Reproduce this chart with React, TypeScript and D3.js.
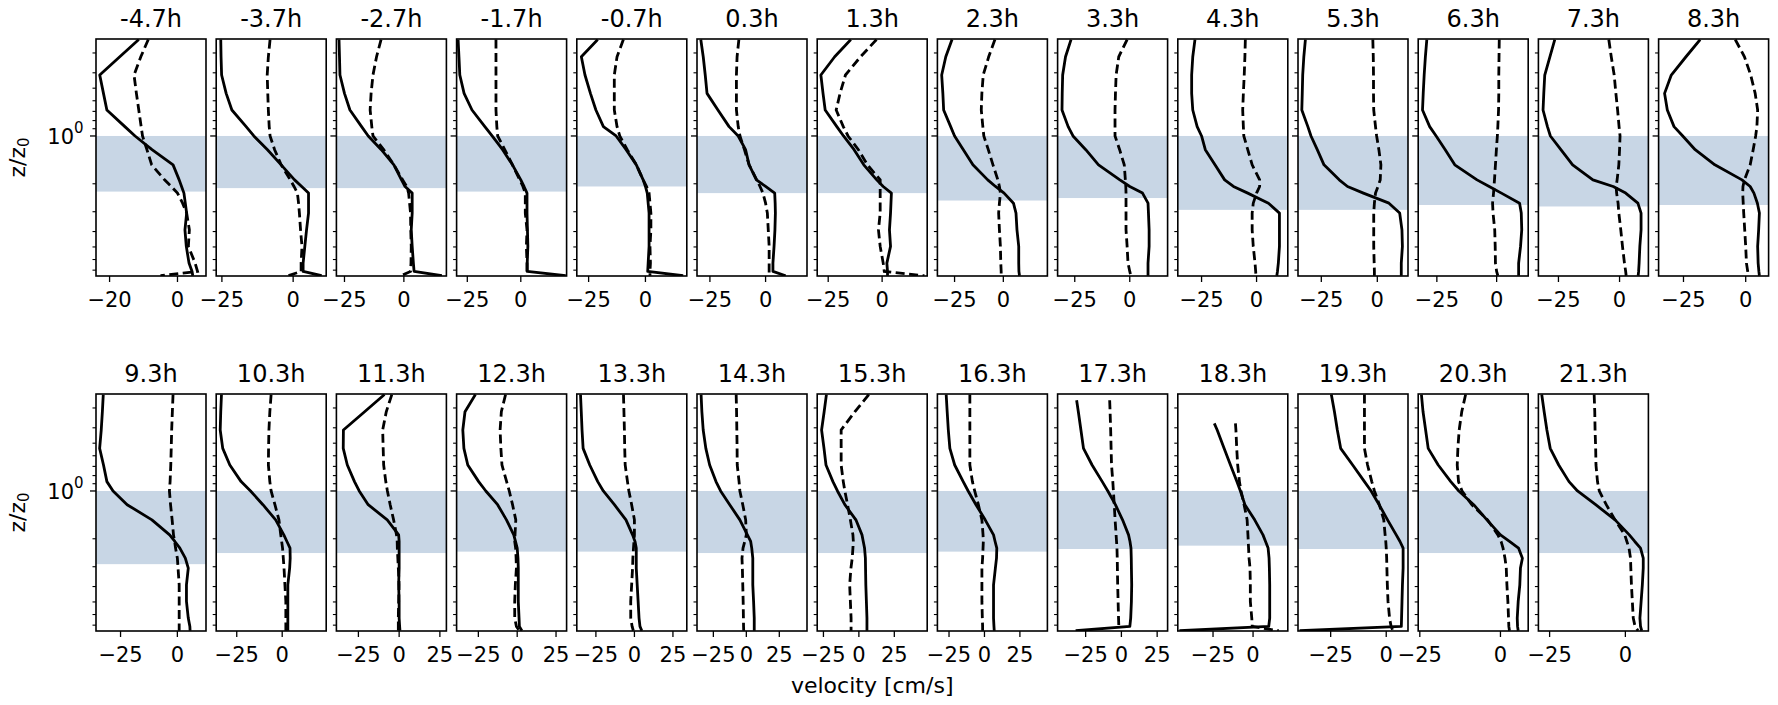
import React from "react";
import * as d3 from "d3";

const N = null;

// z/z0 levels (shared by all profiles, top to bottom)
const Z_LEVELS = [0.247, 0.268, 0.317, 0.375, 0.413, 0.539, 0.686, 0.873, 1.0, 1.22, 1.52, 1.89, 2.08, 2.29, 2.65, 3.06, 3.9, 4.96, 6.32, 7.13, 7.59];

const TITLES = ["-4.7h", "-3.7h", "-2.7h", "-1.7h", "-0.7h", "0.3h", "1.3h", "2.3h", "3.3h", "4.3h", "5.3h", "6.3h", "7.3h", "8.3h",
  "9.3h", "10.3h", "11.3h", "12.3h", "13.3h", "14.3h", "15.3h", "16.3h", "17.3h", "18.3h", "19.3h", "20.3h", "21.3h"];

// solid profile (cm/s)
const SOLID = [
  [-11.4, N, -17, N, -22.9, -21.8, -20.8, -15.5, -12.5, -7.5, -1.3, 0.5, 1.2, 1.9, 2.3, 2.7, 2.2, 2.6, 3.4, 4.3, 4.5],
  [-25.4, N, -25.3, N, -25.1, -23.5, -21.5, -16.5, -13.8, -9, -4.2, 0.5, 3, 5.4, 5.4, 5.4, 4.7, 4.1, 3.5, 3.5, 10],
  [-27.3, N, -27.1, N, -26.9, -25, -22.7, -17.8, -15, -9.5, -4.2, -1, 0.5, 3.5, 3.5, 3.5, 3.1, 3.5, 4, 4.3, 16],
  [-29.3, N, -28.9, N, -28.5, -26.5, -22.8, -16.8, -13.4, -8.5, -3.9, 0, 1.5, 2.9, 2.9, 2.9, 3.1, 3.3, 3, 3, 21],
  [-21, N, -28.2, N, -26.6, -24.2, -21.8, -18.5, -12.9, -8.5, -4, -1, 0, 0.8, 1.2, 1.6, 1.6, 1.6, 1.2, 1, 16.6],
  [-29.1, N, -28, N, -27.1, -26.3, -21.4, -16.4, -12.3, -9, -7.4, -4.1, 0, 4.1, 4.3, 4.4, 4.2, 3.8, 3.3, 3.3, 9],
  [-14.5, N, -22, N, -28.4, -27.4, -26.4, -21, -17.9, -13, -8.5, -2.5, 0.5, 4.3, 4.1, 3.9, 3.4, 3.9, 2.2, 2.5, 2.5],
  [-26.3, N, -29.5, N, -31.6, -31, -30.6, -27, -25, -20.5, -15.6, -8, -4, 0.4, 5.2, 6.5, 7, 7.9, 7.9, 8, 8.3],
  [-26.7, N, -29.2, N, -30.5, -30.7, -30.8, -28, -25.8, -20, -14.2, -4.5, 0, 5.8, 8.3, 8.5, 8.8, 8.8, 8.3, 8.3, 8.3],
  [-28, N, -29, N, -29.5, -29.5, -29, -27, -25, -23.3, -18.9, -14.5, -10.5, -4, 5.4, 10.4, 10.4, 10.4, 9.9, 9.5, 9.2],
  [-32.1, N, -32.8, N, -33.3, -33.5, -33.7, -31, -29.6, -26.8, -23.8, -17, -13.3, -6.2, 5.2, 10, 11, 11.2, 10.7, 10.7, 10.7],
  [-29.2, N, -29.8, N, -30.3, -30.7, -31, -28, -25.3, -21.5, -17.5, -8.2, -3.1, 2, 9.6, 10.3, 10.5, 10, 9.2, 9.2, 9.2],
  [-26.5, N, -28.5, N, -30.6, -31, -31.3, -29.5, -28.3, -24, -19.2, -10.9, -2.6, 2.5, 7.5, 8.8, 8.8, 8.3, 8, 7.8, 7.6],
  [-18.3, N, -24, N, -29.9, -32.6, -31.5, -28.8, -25.3, -20.3, -12.4, -1.5, 1.8, 3.3, 4.7, 5.5, 5.2, 4.8, 5, 5.3, 5.5],
  [-32.6, N, -33, N, -33.5, -34.2, -32.5, -31, -28.3, -22.1, -11.2, -3.4, -1.1, 1.1, 3.5, 4.8, 4, 4, 4.8, 5.5, 5.6],
  [-33.4, N, -33.8, N, -34.1, -32.7, -28.8, -22.6, -17.4, -10.6, -3.6, 0.9, 2.6, 4.3, 4.4, 4.1, 3.1, 3.1, 3.1, 3.1, 3.1],
  [-9, N, -21.2, N, -34.2, -34.3, -31.8, -27.4, -24.5, -19, -7.3, -0.3, 0, 0, 0, 0, -0.3, 0, 0, 0.3, 0.5],
  [-26.9, N, -33.6, N, -35, -34.3, -31.8, -24.8, -20.2, -12.6, -6.9, -2.2, -1.1, 0, 0.5, 0.7, 0.7, 0.7, 1.2, 1.4, 3],
  [-35, N, -34.5, N, -34, -33.3, -29, -23.8, -20.2, -13, -5.5, -1.2, 0.4, 1.2, 1.2, 1.2, 1.8, 2.4, 3, 3.6, 4.8],
  [-34.3, N, -33.7, N, -32.7, -30.7, -27.8, -23, -19.5, -12.6, -4.9, 0.8, 3.3, 4.1, 4.9, 4.9, 4.9, 5.5, 6, 6, 6],
  [-22.9, N, -24.5, N, -26.3, -24.6, -23.2, -18.3, -15.1, -9.9, -2.1, 2.2, 3.1, 4, 4.6, 4.7, 4.9, 5.3, 5.7, 5.7, 5.7],
  [-27, N, -26.3, N, -25.5, -24.4, -21, -15, -11.5, -6, 0.5, 6.4, 7.5, 8.7, 8.5, 7.7, 6.4, 6.4, 6.4, 6.7, 6.9],
  [N, -31.3, -30.1, N, -28.3, -26.5, -20.5, -13.4, -9.5, -4.2, 0.8, 5, 6, 6.7, 6.9, 7, 7.2, 7, 6.5, 5.9, -32],
  [N, N, N, -24.2, -22.4, -18.1, -14.1, -10.1, -7.9, -5.1, 1, 6.2, 7.8, 9.4, 10, 10.2, 10.4, 10.4, 10.4, 9.8, -46],
  [-24.7, N, -23.3, N, -22, -20.5, -15.1, -9.8, -6.8, -3.2, 0.6, 4.5, 6.2, 7.6, 7.6, 7.6, 7.3, 7.1, 6.9, 6.8, -39],
  [-24.5, N, -24, N, -23.2, -22.4, -19.3, -15.4, -12.9, -8.3, -4.2, 0, 2.8, 5.6, 6.8, 6.2, 6, 5.5, 5.2, 5.3, 5.5],
  [-27.6, N, -26.8, N, -25.9, -24.8, -22, -18.6, -15.8, -9.8, -3.4, 1.3, 3.1, 5, 5.9, 5.9, 5.6, 5.2, 4.8, 5, 5.4],
];

// dashed profile (cm/s)
const DASHED = [
  [-8.6, N, -10.8, N, -12.8, -12.1, -11.4, -10.7, -10.3, -9, -7.6, -3.8, -1.8, 0, 1.5, 2.7, 3.5, 3.2, 5.2, 5.9, -5],
  [-8.1, N, -8.7, N, -9.1, -8.9, -8.7, -8.4, -8.1, -6.5, -4.2, -1, 0.3, 1.5, 1.9, 2.2, 2.6, 3.1, 2.8, 2.8, -1.7],
  [-9.6, N, -11.5, N, -13, -13.8, -14.2, -13.5, -13, -8.5, -4.2, -0.5, 1.2, 2, 2.4, 2.8, 2.9, 3.1, 3, 2.8, -1.1],
  [-11.6, N, -11.6, N, -11.6, -11.6, -11.6, -11.2, -10.8, -7.5, -3.9, -0.5, 1, 2.1, 2.1, 2.1, 2.9, 2.6, 2.9, 2.9, 3],
  [-9.7, N, -12.5, N, -13.7, -13.7, -13.7, -12.5, -11.3, -8, -4, -1, 0.5, 1.6, 2, 2.4, 2.4, 2, 2.2, 2, 2],
  [-12, N, -12.8, N, -13.1, -13.1, -13.1, -12.3, -11.5, -9.5, -7.4, -4, -2.5, -1.2, 0, 0.8, 1.2, 1.6, 1.6, 1.6, 1.6],
  [-2.6, N, -10, N, -17, -19.5, -21.3, -18, -15.8, -11, -6.8, -0.9, -0.9, -0.9, -0.9, -0.9, -1.7, -0.9, 0.5, 1, 19.6],
  [-4.3, N, -7.5, N, -10.3, -11, -11.3, -10.5, -10, -7.7, -5.3, -2.8, -2, -1.5, -2, -2.4, -2, -1.5, -1.3, -1.1, -1.1],
  [-1.2, N, -5, N, -6.2, -6.5, -6.7, -6.7, -6.7, -4.6, -2.5, -2, -1.8, -1.7, -1.7, -1.7, -1.7, -1.2, -0.8, 0, 0.5],
  [-5.1, N, -5.3, N, -5.6, -6, -6.3, -6, -5.8, -4, -2, 1.4, 1.4, 0, -1.5, -2, -2, -1.5, -0.7, -0.4, -0.3],
  [-2, N, -1.8, N, -1.7, -1.7, -1.6, -0.8, -0.3, 0.7, 1.6, 1.3, 0.3, -0.8, -1.3, -1.6, -1.6, -1.6, -1.4, -1.3, -1.3],
  [1.1, N, 1, N, 0.9, 0.9, 0.8, 0.5, 0.3, -0.1, -0.5, -0.9, -1.1, -1.3, -1.7, -1.5, -0.8, -0.6, -0.5, 0, 0.5],
  [-4.4, N, -3.4, N, -2.2, -1.5, -0.8, -0.2, 0.2, 0, -0.3, -1, -1.4, -1.2, -0.6, -0.3, 0.5, 1.2, 2, 2.5, 2.7],
  [-4.2, N, -0.5, N, 2, 3.8, 4.8, 4.5, 4, 3, 1.8, -0.5, -1.1, -1.2, -1, -0.8, -0.4, 0, 0.3, 0.8, 1],
  [-1.9, N, -2.2, N, -2.5, -2.7, -2.9, -3.2, -3.5, -3, -2.3, -1.7, -1.2, -0.8, 0, 0.3, 0.8, 0.8, 0.8, 0.8, 0.8],
  [-6.1, N, -6.8, N, -7.3, -7.5, -7.6, -6.8, -6.1, -4, -1.8, -0.8, -0.3, 0.2, 0.6, 1, 1.5, 2, 2, 2, 2],
  [-4.5, N, -7.9, N, -10.1, -9.8, -9.5, -8.2, -7.2, -5.5, -3.4, -1.6, -1.2, -1.1, -0.8, -0.5, 0, -0.3, -0.5, -0.5, -0.5],
  [-7.5, N, -10.2, N, -11, -10.5, -9.8, -6.8, -5.1, -3, -0.9, -1.4, -1.6, -1, -0.7, -0.5, -1.2, -1.6, -1.6, -0.5, 1.4],
  [-7.1, N, -6.8, N, -6.5, -6.3, -6, -4.5, -3.6, -1.8, 0, 0, -0.3, -0.6, -1, -1.2, -1.8, -2.4, -2.4, -1.5, -0.7],
  [-7.7, N, -7.4, N, -7.2, -7, -6.9, -5.5, -4.9, -2.7, -0.5, 0, -1.2, -2.5, -3.3, -3, -2.7, -2.4, -2.2, -2.1, -2],
  [7, N, -2.9, N, -12.5, -12.5, -12.5, -11, -9.9, -8, -6, -4.2, -3.9, -4.2, -4.7, -5.6, -6.5, -6, -5.5, -5.5, -5.5],
  [-10.3, N, -10.3, N, -10.3, -10.3, -10.3, -8.5, -6.9, -4.3, -1.8, -1, -0.8, -1, -1.3, -1.8, -1.8, -1.8, -1.5, -1.3, -1.3],
  [N, -8.2, -7.9, N, -7.5, -7.2, -6.9, -6, -5.6, -5, -4.4, -3.7, -3.4, -3.1, -2.9, -2.8, -2.6, -2.3, -2, -1.8, N],
  [N, N, N, -11, -10.7, -10.2, -9.6, -8.5, -7.5, -5.6, -3.7, -3.2, -3, -2.8, -2.5, -1.9, -1.7, -1.7, -0.8, -0.5, 16],
  [-9.8, N, -9.8, N, -9.8, -9.8, -8.4, -6.5, -5.3, -3.1, -1.1, -0.5, -0.2, 0, 0.2, 0.3, 0.5, 0.8, 1.5, 2.2, 3],
  [-10.8, N, -12, N, -12.8, -13.2, -13.4, -13, -11.9, -8.9, -4, -0.8, 0.2, 0.8, 1.4, 1.8, 2, 2.3, 2.5, 2.6, 2.8],
  [-10.3, N, -10.1, N, -10, -9.8, -9.7, -9.2, -8.6, -6.3, -3.4, -0.2, 0.5, 1.2, 1.7, 1.8, 2, 2.3, 2.6, 3.2, 4.2],
];

// x-axis limits per panel (cm/s)
const X_MIN = [-24, -27, -28.4, -30, -30.2, -30.8, -30.1, -33.8, -32.8, -35.8, -35.4, -32.8, -33.2, -35,
  -35.8, -36.3, -38.5, -39, -37.4, -37.4, -29.4, -33.2, -44.6, -47, -39.7, -25.5, -28.7];
const X_MAX = [8.4, 11.6, 17.9, 21.4, 18.2, 18.6, 20.9, 22.6, 17.2, 14.2, 13.7, 13.2, 11.8, 9.2,
  12.6, 24.2, 29, 31.8, 34, 46, 48.2, 44.4, 32.3, 21.7, 9.8, 8.6, 7.6];
const X_TICK_STEP = [20, 25, 25, 25, 25, 25, 25, 25, 25, 25, 25, 25, 25, 25,
  25, 25, 25, 25, 25, 25, 25, 25, 25, 25, 25, 25, 25];

// shaded layer: from z/z0 = 1 down to this value
const BAND_TOP = 1.0;
const BAND_BOTTOM = [2.24, 2.13, 2.13, 2.24, 2.08, 2.29, 2.29, 2.55, 2.46, 2.92, 2.92, 2.72, 2.78, 2.72,
  2.89, 2.46, 2.46, 2.41, 2.41, 2.46, 2.46, 2.41, 2.32, 2.21, 2.32, 2.46, 2.46];

const Y_DOMAIN = [0.245, 7.62];
const Y_MINOR = [0.3, 0.4, 0.5, 0.6, 0.7, 0.8, 0.9, 2, 3, 4, 5, 6, 7];

const W = 1778, H = 705;
const LEFT0 = 96, PITCH = 120.2, PW = 110, PH = 237;
const ROW_TOP = [39, 394];
const PER_ROW = 14;
const FONT = "DejaVu Sans, sans-serif";
const BAND_COLOR = "#c8d6e5";
const TICK_FS = 21;
const TITLE_FS = 24;
const LABEL_FS = 22;

function fmt(v: number) {
  return v < 0 ? "\u2212" + Math.abs(v) : String(v);
}

function Panel({ i }: { i: number }) {
  const row = i < PER_ROW ? 0 : 1;
  const col = row === 0 ? i : i - PER_ROW;
  const x0 = LEFT0 + col * PITCH;
  const y0 = ROW_TOP[row];
  const x = d3.scaleLinear().domain([X_MIN[i], X_MAX[i]]).range([x0, x0 + PW]);
  const y = d3.scaleLog().domain(Y_DOMAIN).range([y0, y0 + PH]);
  const mk = (vals: (number | null)[]) =>
    Z_LEVELS.map((z, k) => ({ z, v: vals[k] })).filter((d) => d.v !== null) as { z: number; v: number }[];
  const line = d3.line<{ z: number; v: number }>().x((d) => x(d.v)).y((d) => y(d.z));
  const step = X_TICK_STEP[i];
  const ticks = d3.range(Math.ceil(X_MIN[i] / step) * step, X_MAX[i] + 1e-9, step);
  const clipId = `clip${i}`;
  const first = col === 0;
  return (
    <g>
      <defs>
        <clipPath id={clipId}>
          <rect x={x0} y={y0} width={PW} height={PH} />
        </clipPath>
      </defs>
      <rect x={x0} y={y(BAND_TOP)} width={PW} height={y(BAND_BOTTOM[i]) - y(BAND_TOP)} fill={BAND_COLOR} />
      <g clipPath={`url(#${clipId})`}>
        <path d={line(mk(SOLID[i])) || ""} fill="none" stroke="#000" strokeWidth={2.8} strokeLinejoin="round" />
        <path d={line(mk(DASHED[i])) || ""} fill="none" stroke="#000" strokeWidth={2.8} strokeDasharray="9 4.5" />
      </g>
      <rect x={x0} y={y0} width={PW} height={PH} fill="none" stroke="#000" strokeWidth={1.6} />
      {Y_MINOR.map((v) => (
        <line key={v} x1={x0} x2={x0 - 3.5} y1={y(v)} y2={y(v)} stroke="#000" strokeWidth={1.1} />
      ))}
      <line x1={x0} x2={x0 - 6} y1={y(1)} y2={y(1)} stroke="#000" strokeWidth={1.3} />
      {ticks.map((t) => (
        <g key={t}>
          <line x1={x(t)} x2={x(t)} y1={y0 + PH} y2={y0 + PH + 6} stroke="#000" strokeWidth={1.3} />
          <text x={x(t)} y={y0 + PH + 31} textAnchor="middle" fontSize={TICK_FS} fontFamily={FONT}>
            {fmt(t)}
          </text>
        </g>
      ))}
      <text x={x0 + PW / 2} y={y0 - 12} textAnchor="middle" fontSize={TITLE_FS} fontFamily={FONT}>
        {TITLES[i]}
      </text>
      {first && (
        <g>
          <text x={x0 - 22} y={y(1) + 8} textAnchor="end" fontSize={TICK_FS} fontFamily={FONT}>
            10
          </text>
          <text x={x0 - 22} y={y(1) - 3} textAnchor="start" fontSize={15} fontFamily={FONT}>
            0
          </text>
          <text
            transform={`translate(25, ${y0 + PH / 2}) rotate(-90)`}
            textAnchor="middle"
            fontSize={LABEL_FS}
            fontFamily={FONT}
          >
            z/z<tspan fontSize={15} dy={4}>0</tspan>
          </text>
        </g>
      )}
    </g>
  );
}

export default function App() {
  const lastRight = LEFT0 + 12 * PITCH + PW;
  return (
    <svg
      width={W}
      height={H}
      viewBox={`0 0 ${W} ${H}`}
      style={{ position: "absolute", left: 0, top: 0, background: "#fff" }}
    >
      <rect x={0} y={0} width={W} height={H} fill="#fff" />
      {TITLES.map((_, i) => (
        <Panel key={i} i={i} />
      ))}
      <text x={(LEFT0 + lastRight) / 2} y={693} textAnchor="middle" fontSize={LABEL_FS} fontFamily={FONT}>
        velocity [cm/s]
      </text>
    </svg>
  );
}
